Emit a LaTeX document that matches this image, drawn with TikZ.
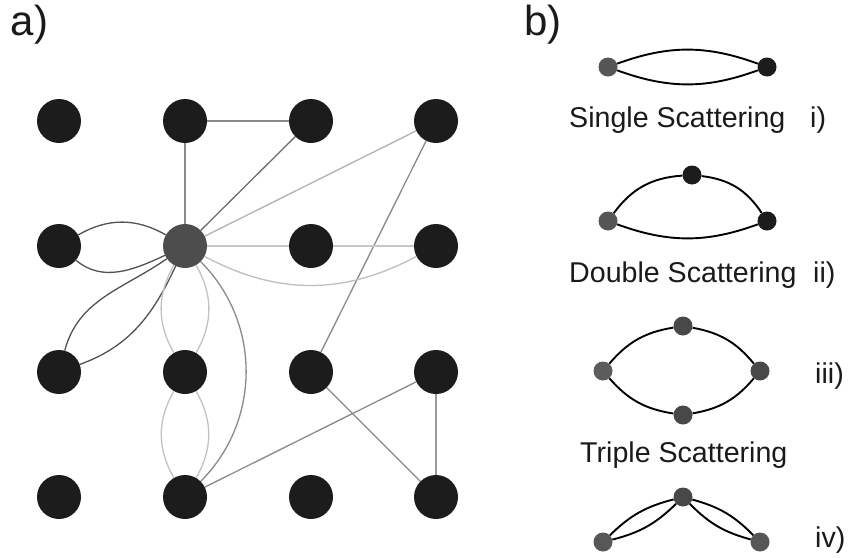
\documentclass[tikz,border=0pt]{standalone}
\usepackage{fontspec}
\setmainfont{Liberation Sans}
\usetikzlibrary{backgrounds}

\definecolor{dotdark}{HTML}{1C1C1C}
\definecolor{hubgray}{HTML}{4D4D4D}
\definecolor{dotgray}{HTML}{555555}
\definecolor{dotmid}{HTML}{484848}
\definecolor{inkgray}{HTML}{1A1A1A}

\begin{document}
\begin{tikzpicture}[x=1pt,y=1pt,
  site/.style={circle,fill=dotdark,minimum size=44pt,inner sep=0pt},
  hub/.style={site,fill=hubgray},
  dot/.style={circle,fill=#1,minimum size=19pt,inner sep=0pt},
  link/.style={line width=1.3pt,draw=#1},
  bond/.style={line width=1.9pt,draw=black},
  label/.style={inner sep=0pt,anchor=base west,text=inkgray,font=\fontsize{28.6}{32}\selectfont},
  panel/.style={inner sep=0pt,anchor=base west,text=inkgray,font=\fontsize{42}{46}\selectfont}]

\useasboundingbox (0,0) rectangle (850,-557);

% panel labels
\node[panel] (pa) at (10.5,-35) {a)};
\node[panel] (pb) at (524,-35) {b)};

% ---- a) lattice of scatterers ----
\node[site] (n11) at (59,-121) {};
\node[site] (n12) at (185,-121) {};
\node[site] (n13) at (311,-121) {};
\node[site] (n14) at (436,-121) {};
\node[site] (n21) at (59,-246) {};
\node[hub]  (n22) at (185,-246) {};
\node[site] (n23) at (311,-246) {};
\node[site] (n24) at (436,-246) {};
\node[site] (n31) at (59,-372) {};
\node[site] (n32) at (185,-372) {};
\node[site] (n33) at (311,-372) {};
\node[site] (n34) at (436,-372) {};
\node[site] (n41) at (59,-497) {};
\node[site] (n42) at (185,-497) {};
\node[site] (n43) at (311,-497) {};
\node[site] (n44) at (436,-497) {};

\begin{scope}[on background layer]
  \fill[white] (0,0) rectangle (850,-557);
  \draw[link={black!46}] (n12) -- (n13);
  \draw[link={black!46}] (n12) -- (n22);
  \draw[link={black!57}] (n22) -- (n13);
  \draw[link={black!30}] (n22) -- (n14);
  \draw[link={black!46}] (n14) -- (n33);
  \draw[link={black!22}] (n22) -- (n24);
  \draw[link={black!25}] (n22) to[out=-28,in=208] (n24);
  \draw[link={black!68}] (n21) to[out=30,in=150] (n22);
  \draw[link={black!68}] (n21) to[out=-40,in=-155] (n22);
  \draw[link={black!68}] (n31) to[out=75,in=215] (n22);
  \draw[link={black!68}] (n31) to[out=20,in=245] (n22);
  \draw[link={black!24}] (n22) to[out=240,in=120] (n32);
  \draw[link={black!24}] (n22) to[out=-60,in=60] (n32);
  \draw[link={black!24}] (n32) to[out=240,in=120] (n42);
  \draw[link={black!24}] (n32) to[out=-60,in=60] (n42);
  \draw[link={black!46}] (n22) to[out=-45,in=45] (n42);
  \draw[link={black!46}] (n42) -- (n34);
  \draw[link={black!46}] (n33) -- (n44);
  \draw[link={black!40}] (n34) -- (n44);
\end{scope}

% ---- b) scattering orders ----
% i) single
\node[dot=dotgray] (s1) at (608,-67) {};
\node[dot=dotdark] (s2) at (767,-67) {};
\draw[bond] (s1) to[bend left=20] (s2);
\draw[bond] (s1) to[bend right=20] (s2);
\node[label] (ts) at (569,-127) {Single Scattering};
\node[label] (ti) at (810,-127) {i)};

% ii) double
\node[dot=dotgray] (d1) at (608,-221) {};
\node[dot=dotdark] (d2) at (692,-175) {};
\node[dot=dotdark] (d3) at (767,-221) {};
\draw[bond] (d1) to[bend left=25] (d2);
\draw[bond] (d2) to[bend left=25] (d3);
\draw[bond] (d1) to[bend right=20] (d3);
\node[label] (td) at (569,-282) {Double Scattering};
\node[label] (tii) at (813,-282) {ii)};

% iii) triple
\node[dot={black!64}] (t1) at (603,-371) {};
\node[dot=dotmid] (t2) at (683,-326) {};
\node[dot=dotmid] (t3) at (760,-371) {};
\node[dot=dotmid] (t4) at (683,-415) {};
\draw[bond] (t1) to[bend left=20] (t2);
\draw[bond] (t2) to[bend left=20] (t3);
\draw[bond] (t3) to[bend left=20] (t4);
\draw[bond] (t4) to[bend left=20] (t1);
\node[label] (tt) at (580,-462) {Triple Scattering};
\node[label] (tiii) at (815,-383) {iii)};

% iv) repeated pair
\node[dot={black!66}] (v1) at (603,-542) {};
\node[dot=dotmid] (v2) at (683,-497) {};
\node[dot={black!66}] (v3) at (760,-542) {};
\draw[bond] (v1) to[bend left=15] (v2);
\draw[bond] (v1) to[bend right=15] (v2);
\draw[bond] (v2) to[bend left=15] (v3);
\draw[bond] (v2) to[bend right=15] (v3);
\node[label] (tiv) at (815,-547) {iv)};

\end{tikzpicture}
\end{document}
